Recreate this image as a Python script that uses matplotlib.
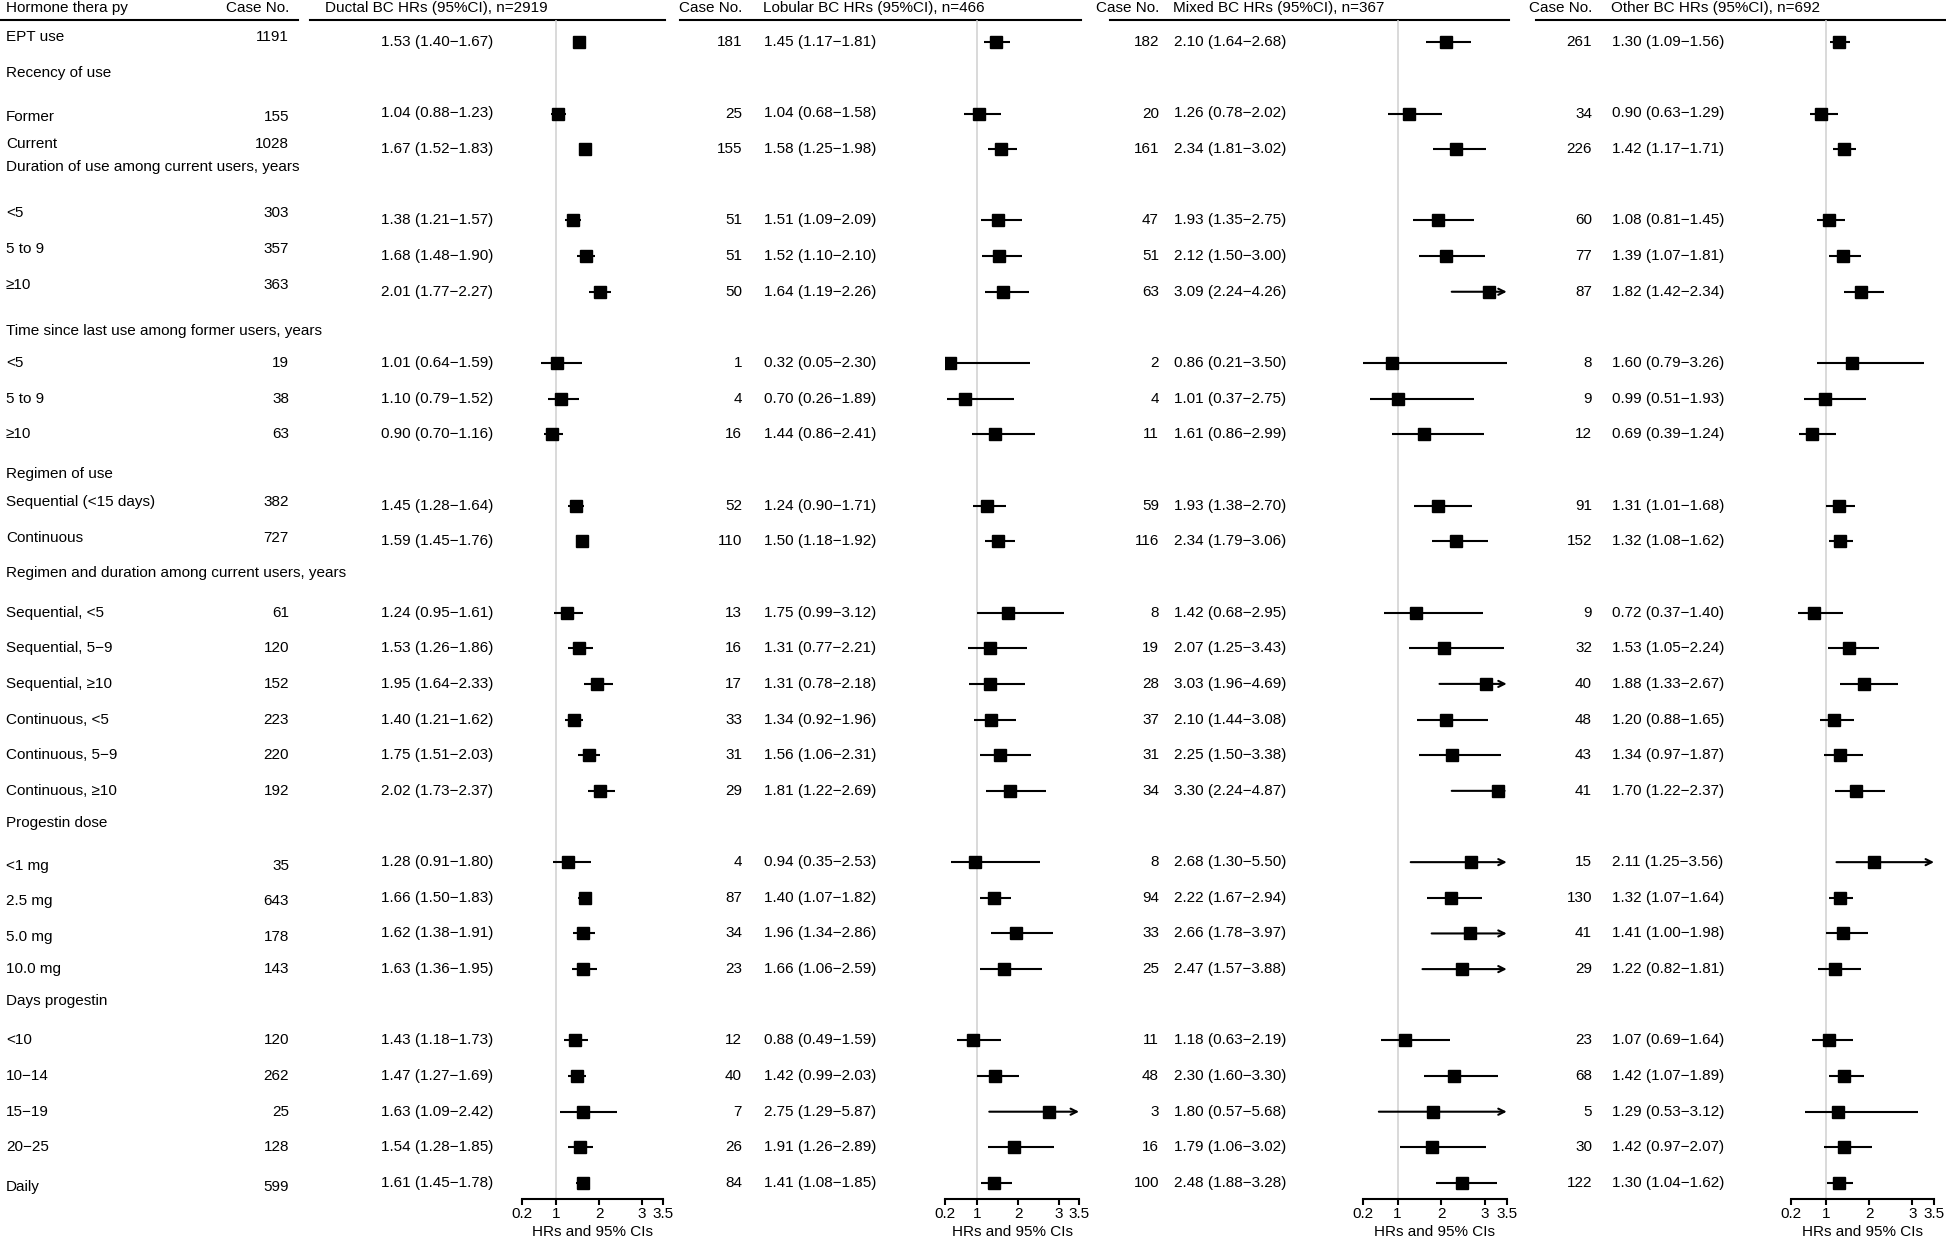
import numpy as np
import matplotlib
matplotlib.use("Agg")
from matplotlib import pyplot as plt

plt.rcParams["font.family"] = ["Liberation Sans", "DejaVu Sans"]
plt.rcParams["font.size"] = 11

# Rows of the table (headings have no estimates)
row_labels = [
    "EPT use", "Recency of use", "Former", "Current",
    "Duration of use among current users, years", "<5", "5 to 9", "≥10",
    "Time since last use among former users, years", "<5", "5 to 9", "≥10",
    "Regimen of use", "Sequential (<15 days)", "Continuous",
    "Regimen and duration among current users, years",
    "Sequential, <5", "Sequential, 5−9", "Sequential, ≥10",
    "Continuous, <5", "Continuous, 5−9", "Continuous, ≥10",
    "Progestin dose", "<1 mg", "2.5 mg", "5.0 mg", "10.0 mg",
    "Days progestin", "<10", "10−14", "15−19", "20−25", "Daily",
]
headings = [
    "Recency of use", "Duration of use among current users, years",
    "Time since last use among former users, years", "Regimen of use",
    "Regimen and duration among current users, years", "Progestin dose",
    "Days progestin",
]

# Ductal
ductal_n = [1191, 155, 1028, 303, 357, 363, 19, 38, 63, 382, 727, 61, 120, 152,
            223, 220, 192, 35, 643, 178, 143, 120, 262, 25, 128, 599]
ductal_hr = [1.53, 1.04, 1.67, 1.38, 1.68, 2.01, 1.01, 1.10, 0.90, 1.45, 1.59, 1.24, 1.53,
             1.95, 1.40, 1.75, 2.02, 1.28, 1.66, 1.62, 1.63, 1.43, 1.47, 1.63, 1.54, 1.61]
ductal_lo = [1.40, 0.88, 1.52, 1.21, 1.48, 1.77, 0.64, 0.79, 0.70, 1.28, 1.45, 0.95, 1.26,
             1.64, 1.21, 1.51, 1.73, 0.91, 1.50, 1.38, 1.36, 1.18, 1.27, 1.09, 1.28, 1.45]
ductal_hi = [1.67, 1.23, 1.83, 1.57, 1.90, 2.27, 1.59, 1.52, 1.16, 1.64, 1.76, 1.61, 1.86,
             2.33, 1.62, 2.03, 2.37, 1.80, 1.83, 1.91, 1.95, 1.73, 1.69, 2.42, 1.85, 1.78]

# Lobular
lobular_n = [181, 25, 155, 51, 51, 50, 1, 4, 16, 52, 110, 13, 16, 17,
             33, 31, 29, 4, 87, 34, 23, 12, 40, 7, 26, 84]
lobular_hr = [1.45, 1.04, 1.58, 1.51, 1.52, 1.64, 0.32, 0.70, 1.44, 1.24, 1.50, 1.75, 1.31,
              1.31, 1.34, 1.56, 1.81, 0.94, 1.40, 1.96, 1.66, 0.88, 1.42, 2.75, 1.91, 1.41]
lobular_lo = [1.17, 0.68, 1.25, 1.09, 1.10, 1.19, 0.05, 0.26, 0.86, 0.90, 1.18, 0.99, 0.77,
              0.78, 0.92, 1.06, 1.22, 0.35, 1.07, 1.34, 1.06, 0.49, 0.99, 1.29, 1.26, 1.08]
lobular_hi = [1.81, 1.58, 1.98, 2.09, 2.10, 2.26, 2.30, 1.89, 2.41, 1.71, 1.92, 3.12, 2.21,
              2.18, 1.96, 2.31, 2.69, 2.53, 1.82, 2.86, 2.59, 1.59, 2.03, 5.87, 2.89, 1.85]

# Mixed
mixed_n = [182, 20, 161, 47, 51, 63, 2, 4, 11, 59, 116, 8, 19, 28,
           37, 31, 34, 8, 94, 33, 25, 11, 48, 3, 16, 100]
mixed_hr = [2.10, 1.26, 2.34, 1.93, 2.12, 3.09, 0.86, 1.01, 1.61, 1.93, 2.34, 1.42, 2.07,
            3.03, 2.10, 2.25, 3.30, 2.68, 2.22, 2.66, 2.47, 1.18, 2.30, 1.80, 1.79, 2.48]
mixed_lo = [1.64, 0.78, 1.81, 1.35, 1.50, 2.24, 0.21, 0.37, 0.86, 1.38, 1.79, 0.68, 1.25,
            1.96, 1.44, 1.50, 2.24, 1.30, 1.67, 1.78, 1.57, 0.63, 1.60, 0.57, 1.06, 1.88]
mixed_hi = [2.68, 2.02, 3.02, 2.75, 3.00, 4.26, 3.50, 2.75, 2.99, 2.70, 3.06, 2.95, 3.43,
            4.69, 3.08, 3.38, 4.87, 5.50, 2.94, 3.97, 3.88, 2.19, 3.30, 5.68, 3.02, 3.28]

# Other
other_n = [261, 34, 226, 60, 77, 87, 8, 9, 12, 91, 152, 9, 32, 40,
           48, 43, 41, 15, 130, 41, 29, 23, 68, 5, 30, 122]
other_hr = [1.30, 0.90, 1.42, 1.08, 1.39, 1.82, 1.60, 0.99, 0.69, 1.31, 1.32, 0.72, 1.53,
            1.88, 1.20, 1.34, 1.70, 2.11, 1.32, 1.41, 1.22, 1.07, 1.42, 1.29, 1.42, 1.30]
other_lo = [1.09, 0.63, 1.17, 0.81, 1.07, 1.42, 0.79, 0.51, 0.39, 1.01, 1.08, 0.37, 1.05,
            1.33, 0.88, 0.97, 1.22, 1.25, 1.07, 1.00, 0.82, 0.69, 1.07, 0.53, 0.97, 1.04]
other_hi = [1.56, 1.29, 1.71, 1.45, 1.81, 2.34, 3.26, 1.93, 1.24, 1.68, 1.62, 1.40, 2.24,
            2.67, 1.65, 1.87, 2.37, 3.56, 1.64, 1.98, 1.81, 1.64, 1.89, 3.12, 2.07, 1.62]

panel_titles = ["Ductal BC HRs (95%CI), n=2919", "Lobular BC HRs (95%CI), n=466",
                "Mixed BC HRs (95%CI), n=367", "Other BC HRs (95%CI), n=692"]
tick_vals = [0.2, 1, 2, 3, 3.5]
tick_text = ["0.2", "1", "2", "3", "3.5"]

# ---- layout (figure pixels) ----
W, H = 1946, 1244
ROW0, ROWH = 42.2, 35.65          # pixel y of first row and row spacing
AXIS_Y, RULE_Y, HEAD_Y = 1199, 20, 8
XMIN, XMAX = 0.2, 3.5


def px_row(py):
    return (py - ROW0) / ROWH


# small vertical nudges of the left-hand labels (as in the original layout)
label_nudge = {0: -0.15, 1: -0.15, 2: 0.1, 3: -0.15, 4: -0.5, 5: -0.2, 6: -0.2, 7: -0.2,
               8: 0.1, 12: 0.1, 13: -0.1, 14: -0.1, 15: -0.1, 22: -0.1, 23: 0.1,
               24: 0.1, 25: 0.1, 27: -0.1, 32: 0.1}

panels = [
    dict(n=ductal_n, hr=ductal_hr, lo=ductal_lo, hi=ductal_hi, case_x=None,
         text_x=437, text_ha="center", head_x=325, ax=(522.3, 663.3), rule=(310, 665)),
    dict(n=lobular_n, hr=lobular_hr, lo=lobular_lo, hi=lobular_hi, case_x=742,
         text_x=764, text_ha="left", head_x=763, ax=(945, 1079), rule=(680, 1081)),
    dict(n=mixed_n, hr=mixed_hr, lo=mixed_lo, hi=mixed_hi, case_x=1159,
         text_x=1174, text_ha="left", head_x=1173, ax=(1362.7, 1506.7), rule=(1110, 1509)),
    dict(n=other_n, hr=other_hr, lo=other_lo, hi=other_hi, case_x=1592,
         text_x=1612, text_ha="left", head_x=1611, ax=(1791, 1934), rule=(1536, 1946)),
]

item_rows = [i for i, lab in enumerate(row_labels) if lab not in headings]

fig = plt.figure(figsize=(W / 100, H / 100), dpi=100)

# text layer covering the whole figure: x in pixels, y in row units
tax = fig.add_axes([0, 0, 1, 1])
tax.set_xlim(0, W)
tax.set_ylim(px_row(H), px_row(0))
tax.axis("off")

head_row = px_row(HEAD_Y)
rule_row = px_row(RULE_Y)
tax.text(6, head_row, "Hormone thera py", va="center", ha="left")
tax.text(289, head_row, "Case No.", va="center", ha="right")
tax.plot([0, 298], [rule_row, rule_row], color="black", lw=1.5)

for i, lab in enumerate(row_labels):
    tax.text(6, i + label_nudge.get(i, 0), lab, va="center", ha="left")
for k, r in enumerate(item_rows):
    tax.text(289, r + label_nudge.get(r, 0), str(ductal_n[k]), va="center", ha="right")

for title, p in zip(panel_titles, panels):
    tax.text(p["head_x"], head_row, title, va="center", ha="left")
    if p["case_x"] is not None:
        tax.text(p["case_x"], head_row, "Case No.", va="center", ha="right")
    tax.plot(p["rule"], [rule_row, rule_row], color="black", lw=1.5)

    for k, r in enumerate(item_rows):
        s = f"{p['hr'][k]:.2f} ({p['lo'][k]:.2f}\u2212{p['hi'][k]:.2f})"
        tax.text(p["text_x"], r, s, va="center", ha=p["text_ha"])
        if p["case_x"] is not None:
            tax.text(p["case_x"], r, str(p["n"][k]), va="center", ha="right")

    x0, x1 = p["ax"]
    ax = fig.add_axes([x0 / W, 1 - AXIS_Y / H, (x1 - x0) / W, (AXIS_Y - RULE_Y) / H])
    ax.patch.set_visible(False)
    ax.set_xlim(XMIN, XMAX)
    ax.set_ylim(px_row(AXIS_Y), rule_row)
    for side in ["left", "right", "top"]:
        ax.spines[side].set_visible(False)
    ax.spines["bottom"].set_linewidth(1.5)
    ax.set_yticks([])
    ax.set_xticks(tick_vals)
    ax.set_xticklabels(tick_text)
    ax.tick_params(axis="x", length=4, width=1.5, pad=1.5, labelsize=11)
    ax.set_xlabel("HRs and 95% CIs", fontsize=11, labelpad=3)
    ax.axvline(1, color="#cfcfcf", lw=1.1, zorder=0)

    hr = np.array(p["hr"])
    lo = np.clip(np.array(p["lo"]), XMIN, XMAX)
    hi = np.array(p["hi"])
    rows = np.array(item_rows)
    for k in range(len(hr)):
        if hi[k] > XMAX:
            ax.annotate("", xy=(XMAX, rows[k]), xytext=(lo[k], rows[k]),
                        arrowprops=dict(arrowstyle="->", lw=1.5, color="black",
                                        shrinkA=0, shrinkB=0, mutation_scale=11),
                        annotation_clip=False)
        else:
            ax.plot([lo[k], hi[k]], [rows[k], rows[k]], color="black", lw=1.5,
                    solid_capstyle="butt")
    ax.plot(hr, rows, linestyle="none", marker="s", markersize=8, color="black",
            zorder=3)

fig.savefig("out.png", dpi=100)
